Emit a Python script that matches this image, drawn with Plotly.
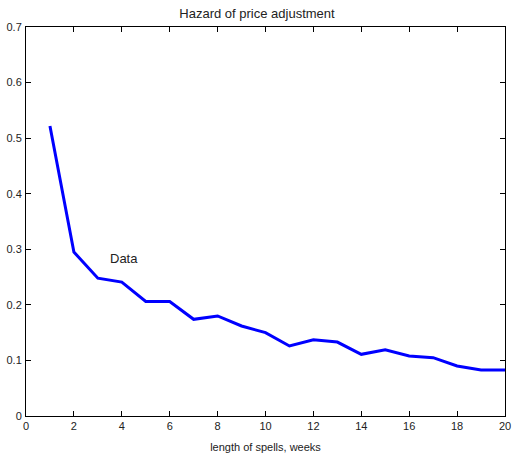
import plotly.graph_objects as go

weeks = list(range(1, 21))
hazard = [0.522, 0.295, 0.248, 0.241, 0.206, 0.206, 0.174, 0.180, 0.162, 0.150,
          0.126, 0.137, 0.133, 0.111, 0.119, 0.108, 0.105, 0.090, 0.083, 0.083]
x_ticks = list(range(0, 21, 2))
y_ticks = [0, 0.1, 0.2, 0.3, 0.4, 0.5, 0.6, 0.7]
y_tick_labels = ["0", "0.1", "0.2", "0.3", "0.4", "0.5", "0.6", "0.7"]

fig = go.Figure()
fig.add_trace(go.Scatter(x=weeks, y=hazard, mode="lines",
                         line=dict(color="#0000FF", width=3), showlegend=False))

fig.add_annotation(x=3.42, y=0.284, text="Data", showarrow=False, xanchor="left",
                   yanchor="middle", font=dict(family="Liberation Sans, Arial", size=13, color="#222"))

axis_common = dict(showgrid=False, zeroline=False, showline=True, linecolor="black",
                   linewidth=1, mirror="allticks", ticks="inside", ticklen=5,
                   tickcolor="black", automargin=False,
                   tickfont=dict(family="Liberation Sans, Arial", size=11, color="#222"))

fig.update_layout(
    width=514, height=453,
    margin=dict(l=26, r=9, t=27, b=37),
    paper_bgcolor="white", plot_bgcolor="white",
    title=dict(text="Hazard of price adjustment", x=0.5, xanchor="center",
               y=1 - 13.5 / 453, yanchor="middle",
               font=dict(family="Liberation Sans, Arial", size=13, color="#222")),
    xaxis=dict(range=[0, 20], tickvals=x_ticks, ticktext=[str(v) for v in x_ticks],
               title=dict(text="length of spells, weeks", standoff=13,
                          font=dict(family="Liberation Sans, Arial", size=11, color="#222")),
               **axis_common),
    yaxis=dict(range=[0, 0.7], tickvals=y_ticks, ticktext=y_tick_labels, ticklabelstandoff=1,
               **axis_common),
)

fig.write_html("out.html", config={"displayModeBar": False},
               post_script="document.body.style.margin='0';document.body.style.overflow='hidden';")
